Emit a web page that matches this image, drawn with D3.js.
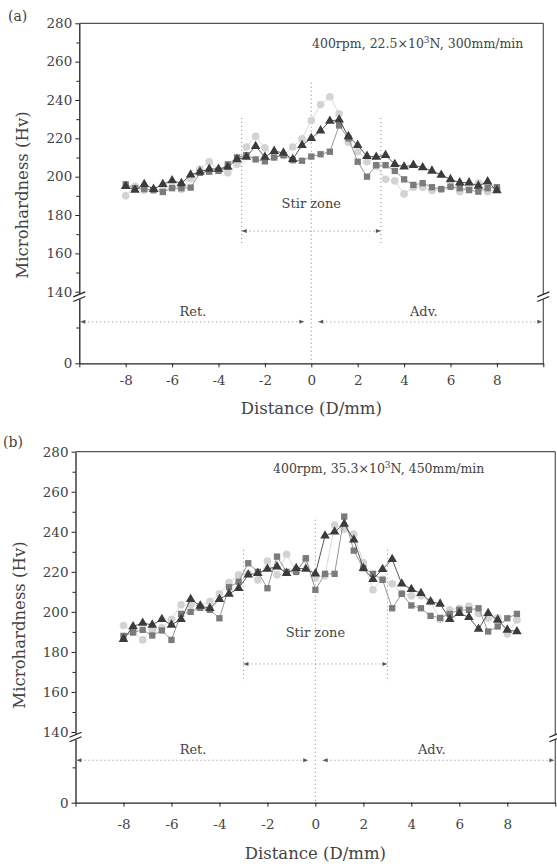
<!DOCTYPE html>
<html>
<head>
<meta charset="utf-8">
<script src="https://cdn.jsdelivr.net/npm/d3@7/dist/d3.min.js"></script>
<style>
  body { margin: 0; background: #fff; }
  text { font-family: "DejaVu Serif", serif; fill: #444; }
</style>
</head>
<body>
<svg id="chart" width="557" height="866"></svg>
<script>
// ---- data (a) ----
const distA = [-8, -7.6, -7.2, -6.8, -6.4, -6, -5.6, -5.2, -4.8, -4.4, -4, -3.6, -3.2, -2.8, -2.4, -2, -1.6, -1.2, -0.8, -0.4,
  0, 0.4, 0.8, 1.2, 1.6, 2, 2.4, 2.8, 3.2, 3.6, 4, 4.4, 4.8, 5.2, 5.6, 6, 6.4, 6.8, 7.2, 7.6, 8];
const circleA = [190, 195, 193, 193, 193.5, 194.5, 193.5, 199, 204, 207.8, 203.5, 202, 206.5, 215.5, 221, 215, 210.3, 211, 215.5, 219.8,
  229.3, 237.6, 241.7, 232.8, 218, 213, 207.8, 205.5, 198.6, 197.8, 191, 194.5, 194.5, 192.8, 193.5, 194.8, 192.2, 194, 196.6, 192.2, 194];
const squareA = [196, 194, 193.5, 193, 192, 194, 194, 194.3, 202, 202.6, 203, 206.4, 210, 211.2, 209, 208, 210, 211.2, 208.6, 208.3,
  210.5, 211.7, 213, 226.7, 220, 207.8, 200, 206, 206, 203, 198.6, 195.7, 196.6, 194.5, 193.5, 194.8, 194, 193, 192.2, 194, 194.5];
const triangleA = [195, 193, 196, 193.5, 196, 198, 196.5, 201, 202.5, 204, 204, 205, 209, 210.3, 215.9, 210.3, 213.3, 212.4, 209.1, 216.4,
  220, 224, 229, 229.7, 221, 216.4, 210.7, 210.3, 211.2, 206.5, 205.2, 206, 204.8, 203, 200.9, 198.6, 196.9, 196.9, 195.2, 197.4, 192.8];

// ---- data (b) ----
const distB = [-8, -7.6, -7.2, -6.8, -6.4, -6, -5.6, -5.2, -4.8, -4.4, -4, -3.6, -3.2, -2.8, -2.4, -2, -1.6, -1.2, -0.8, -0.4,
  0, 0.4, 0.8, 1.2, 1.6, 2, 2.4, 2.8, 3.2, 3.6, 4, 4.4, 4.8, 5.2, 5.6, 6, 6.4, 6.8, 7.2, 7.6, 8, 8.4];
const circleB = [193.2, 190, 186, 191, 192, 196.3, 203.5, 203.5, 203, 205.1, 209, 214.6, 218.5, 219, 216, 225.4, 218.5, 228.8, 220, 226,
  216.8, 218, 243.4, 241.3, 238.9, 224.6, 211, 216.3, 214, 209.3, 208, 208, 205, 196.3, 201, 201.8, 202.9, 199, 197, 197, 189, 196];
const squareB = [188, 189.7, 191, 188.2, 190.7, 186, 199, 200, 202, 201, 196.8, 212.3, 215.1, 224.3, 220, 211.8, 227.6, 220, 220, 226.8,
  211, 219, 219, 247.6, 230.6, 221.8, 219, 216, 201.8, 209, 203.2, 201.8, 198, 197, 199, 201, 201, 201.8, 190.2, 192.7, 196.8, 199];
const triangleB = [186.4, 192.7, 194.4, 193.5, 196.3, 193.5, 196.3, 206.3, 203, 201.8, 206.3, 209, 211.8, 218.5, 219.3, 221.4, 222.6, 219.3, 221.8, 221.4,
  219, 238, 240, 243.9, 236, 221.8, 216.3, 221.3, 226.3, 214, 211.3, 209.3, 205.1, 204, 196.3, 199.3, 197.3, 191.4, 199.3, 196, 191, 190.2];

// ---- axis ticks ----
const yMajor = [0, 140, 160, 180, 200, 220, 240, 260, 280];
const yMinor = [70, 150, 170, 190, 210, 230, 250, 270];
const xTicks = [-10, -8, -6, -4, -2, 0, 2, 4, 6, 8, 10];

const svg = d3.select("#chart");

// arrow head
svg.append("defs").append("marker")
  .attr("id", "head")
  .attr("viewBox", "0 0 10 10")
  .attr("refX", 10).attr("refY", 5)
  .attr("markerWidth", 6).attr("markerHeight", 5)
  .attr("markerUnits", "userSpaceOnUse")
  .attr("orient", "auto-start-reverse")
  .append("path").attr("d", "M0,1L10,5L0,9Z").attr("fill", "#555");

const series = [
  { key: "circle", shape: d3.symbolCircle, size: 46, fill: "#d3d3d3", line: "#d6d6d6" },
  { key: "square", shape: d3.symbolSquare, size: 40, fill: "#7b7b7b", line: "#8a8a8a" },
  { key: "triangle", shape: d3.symbolTriangle, size: 40, fill: "#3b3b3b", line: "#444" }
];

function panel(cfg) {
  const g = svg.append("g");
  const x = d3.scaleLinear().domain([-10, 10]).range([cfg.left, cfg.right]);
  const y = d3.scaleLinear().domain([0, 140, 280]).range([cfg.bottom, cfg.mid, cfg.top]);

  // frame top / right
  g.append("line").attr("x1", cfg.left).attr("x2", cfg.right).attr("y1", cfg.top).attr("y2", cfg.top)
    .attr("stroke", "#555").attr("stroke-width", 1.2);
  g.append("line").attr("x1", cfg.right).attr("x2", cfg.right).attr("y1", cfg.top).attr("y2", cfg.bottom)
    .attr("stroke", "#555").attr("stroke-width", 1.2);

  // x axis
  g.append("g")
    .attr("transform", "translate(0," + cfg.bottom + ")")
    .call(d3.axisBottom(x).tickValues(xTicks).tickSize(4).tickSizeOuter(0).tickPadding(cfg.xPad)
      .tickFormat(d => Math.abs(d) === 10 ? "" : String(d)));
  // y axis
  g.append("g")
    .attr("transform", "translate(" + cfg.left + ",0)")
    .call(d3.axisLeft(y).tickValues(yMajor).tickSize(4).tickSizeOuter(0).tickPadding(3));
  g.append("g")
    .attr("transform", "translate(" + cfg.left + ",0)")
    .call(d3.axisLeft(y).tickValues(yMinor).tickSize(3).tickFormat(""))
    .select(".domain").remove();

  g.selectAll(".domain").attr("stroke", "#222").attr("stroke-width", 1.3);
  g.selectAll(".tick line").attr("stroke", "#222");
  g.selectAll(".tick text").attr("font-size", 13.5).attr("fill", "#444")
    .style("font-family", '"DejaVu Serif", serif');

  // axis break marks
  [cfg.left, cfg.right].forEach(px => {
    const yb = y(140) + 5;
    g.append("rect").attr("x", px - 3).attr("y", yb - 2.5).attr("width", 6).attr("height", 5).attr("fill", "#fff");
    [-2.3, 2.3].forEach(o => {
      g.append("line")
        .attr("x1", px - 6).attr("y1", yb + o + 2.5)
        .attr("x2", px + 6).attr("y2", yb + o - 2.5)
        .attr("stroke", "#222").attr("stroke-width", 1.2);
    });
  });

  // guide lines
  const dotted = sel => sel.attr("stroke", "#888").attr("stroke-width", 1).attr("stroke-dasharray", "1,3").attr("fill", "none");
  g.append("line").attr("x1", x(0)).attr("x2", x(0)).attr("y1", y(cfg.centerTop)).attr("y2", y(0)).call(dotted);
  [-3, 3].forEach(v => {
    g.append("line").attr("x1", x(v)).attr("x2", x(v)).attr("y1", y(cfg.stirTop)).attr("y2", y(cfg.stirBottom)).call(dotted);
  });
  g.append("line").attr("x1", x(-3)).attr("x2", x(3)).attr("y1", y(cfg.stirArrow)).attr("y2", y(cfg.stirArrow))
    .call(dotted).attr("marker-start", "url(#head)").attr("marker-end", "url(#head)");
  g.append("text").attr("x", x(0)).attr("y", y(cfg.stirText)).attr("text-anchor", "middle")
    .attr("font-size", 13).text("Stir zone");

  // Ret. / Adv.
  const ay = y(cfg.sideArrow);
  g.append("line").attr("x1", cfg.left + 1).attr("x2", x(-0.3)).attr("y1", ay).attr("y2", ay)
    .call(dotted).attr("marker-start", "url(#head)").attr("marker-end", "url(#head)");
  g.append("line").attr("x1", x(0.3)).attr("x2", cfg.right - 1).attr("y1", ay).attr("y2", ay)
    .call(dotted).attr("marker-start", "url(#head)").attr("marker-end", "url(#head)");
  g.append("text").attr("x", x(-5.1)).attr("y", ay - 6).attr("text-anchor", "middle").attr("font-size", 13).text("Ret.");
  g.append("text").attr("x", x(4.85)).attr("y", ay - 6).attr("text-anchor", "middle").attr("font-size", 13).text("Adv.");

  // series
  const line = d3.line().x(d => x(d[0])).y(d => y(d[1]));
  series.forEach(s => {
    const pts = cfg.dist.map((d, i) => [d, cfg[s.key][i]]);
    g.append("path").datum(pts).attr("d", line).attr("fill", "none")
      .attr("stroke", s.line).attr("stroke-width", 0.9);
    g.selectAll(null).data(pts).enter().append("path")
      .attr("transform", d => "translate(" + x(d[0]) + "," + y(d[1]) + ")")
      .attr("d", d3.symbol().type(s.shape).size(s.size))
      .attr("fill", s.fill);
  });

  // titles
  g.append("text").attr("x", cfg.label[0]).attr("y", cfg.label[1]).attr("font-size", 14).text(cfg.name);
  const cond = g.append("text").attr("x", cfg.cond[0]).attr("y", cfg.cond[1]).attr("font-size", 12.5);
  cond.append("tspan").text(cfg.condText[0]);
  cond.append("tspan").attr("dy", -5).attr("font-size", 9).text("3");
  cond.append("tspan").attr("dy", 5).text(cfg.condText[1]);
  g.append("text").attr("x", (cfg.left + cfg.right) / 2).attr("y", cfg.bottom + cfg.xTitle)
    .attr("text-anchor", "middle").attr("font-size", 16.5).text("Distance (D/mm)");
  g.append("text").attr("transform", "translate(" + cfg.yTitle[0] + "," + cfg.yTitle[1] + ") rotate(-90)")
    .attr("text-anchor", "middle").attr("font-size", 16.5).text("Microhardness (Hv)");
}

panel({
  name: "(a)", label: [8, 21],
  left: 79.3, right: 543.3, top: 23.3, mid: 291.7, bottom: 363.3, xPad: 8,
  dist: distA, circle: circleA, square: squareA, triangle: triangleA,
  centerTop: 249, stirTop: 230.6, stirBottom: 164, stirArrow: 171.6, stirText: 183.6, sideArrow: 81,
  cond: [312, 48], condText: ["400rpm, 22.5\u00d710", "N, 300mm/min"],
  xTitle: 51, yTitle: [28, 195]
});

panel({
  name: "(b)", label: [3, 447],
  left: 75.5, right: 555.3, top: 451.7, mid: 732, bottom: 802.7, xPad: 13,
  dist: distB, circle: circleB, square: squareB, triangle: triangleB,
  centerTop: 246, stirTop: 231, stirBottom: 165, stirArrow: 174, stirText: 187.5, sideArrow: 84,
  cond: [273, 473], condText: ["400rpm, 35.3\u00d710", "N, 450mm/min"],
  xTitle: 56, yTitle: [25, 625]
});
</script>
</body>
</html>
